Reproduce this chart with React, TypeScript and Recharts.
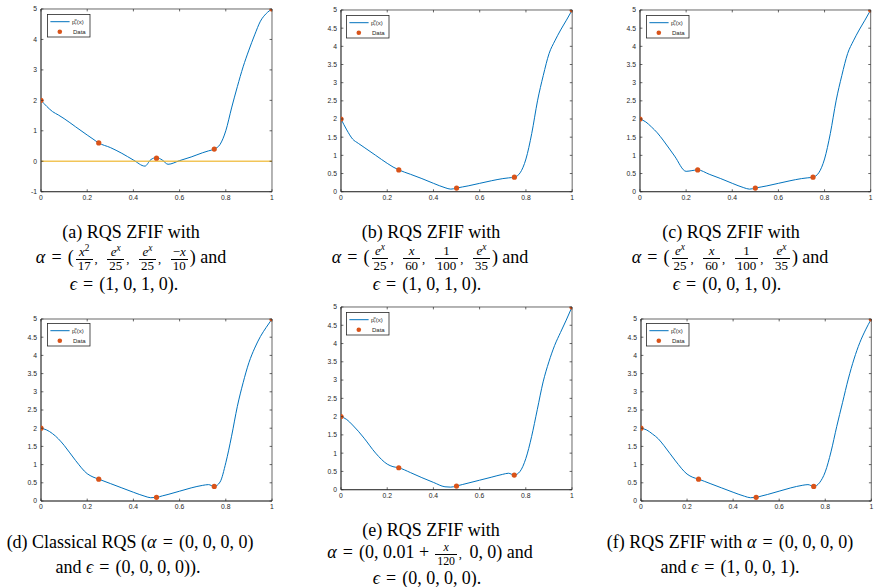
import React from 'react';
import { ComposedChart, Line, Scatter, XAxis, YAxis, Legend, ReferenceArea } from 'recharts';

// ---------- data ----------
const curveX = [0, 0.025, 0.05, 0.075, 0.1, 0.15, 0.2, 0.225, 0.25, 0.3, 0.35, 0.4, 0.45, 0.475, 0.5, 0.525, 0.55, 0.6, 0.65, 0.7, 0.725, 0.75, 0.775, 0.8, 0.825, 0.85, 0.875, 0.9, 0.925, 0.95, 0.975, 1];
const curveA = [2, 1.8, 1.63, 1.52, 1.4, 1.13, 0.86, 0.73, 0.6, 0.45, 0.26, 0.04, -0.16, 0.05, 0.12, 0.04, -0.1, 0.02, 0.14, 0.28, 0.34, 0.4, 0.55, 1.0, 1.75, 2.45, 3.1, 3.65, 4.15, 4.6, 4.85, 5];
const curveB = [2, 1.7, 1.45, 1.33, 1.22, 1.0, 0.78, 0.68, 0.6, 0.48, 0.36, 0.23, 0.11, 0.07, 0.1, 0.13, 0.16, 0.23, 0.3, 0.36, 0.38, 0.4, 0.52, 0.9, 1.6, 2.5, 3.2, 3.8, 4.15, 4.45, 4.72, 5];
const curveC = [2, 1.92, 1.78, 1.62, 1.42, 0.98, 0.56, 0.58, 0.6, 0.48, 0.36, 0.23, 0.11, 0.07, 0.1, 0.13, 0.16, 0.23, 0.3, 0.36, 0.38, 0.4, 0.52, 0.9, 1.6, 2.5, 3.2, 3.8, 4.15, 4.45, 4.72, 5];
const curveD = [2, 1.95, 1.85, 1.71, 1.53, 1.11, 0.75, 0.66, 0.6, 0.48, 0.36, 0.24, 0.13, 0.09, 0.1, 0.14, 0.18, 0.27, 0.36, 0.43, 0.45, 0.4, 0.52, 1.05, 1.78, 2.6, 3.25, 3.8, 4.2, 4.52, 4.77, 5];
const curveE = [2, 1.92, 1.77, 1.6, 1.41, 1.0, 0.7, 0.63, 0.6, 0.47, 0.33, 0.2, 0.08, 0.07, 0.1, 0.14, 0.18, 0.26, 0.34, 0.42, 0.45, 0.4, 0.5, 0.85, 1.45, 2.2, 2.95, 3.5, 3.95, 4.3, 4.64, 5];
const curveF = [2, 1.95, 1.84, 1.71, 1.52, 1.1, 0.74, 0.65, 0.6, 0.48, 0.36, 0.24, 0.13, 0.09, 0.1, 0.14, 0.18, 0.27, 0.36, 0.43, 0.45, 0.4, 0.5, 0.8, 1.35, 2.05, 2.7, 3.35, 3.9, 4.35, 4.7, 5];

const dataX = [0, 0.25, 0.5, 0.75, 1];
const dataY = [2, 0.6, 0.1, 0.4, 5];

const zeroX = [0, 1];
const zeroY = [0, 0];

const xTicks = [0, 0.2, 0.4, 0.6, 0.8, 1];
const yTicksWide = [-1, 0, 1, 2, 3, 4, 5];
const yTicksHalf = [0, 0.5, 1, 1.5, 2, 2.5, 3, 3.5, 4, 4.5, 5];

const LINE_NAME = 'p_r^α(x)';
const POINT_NAME = 'Data';

// ---------- style ----------
const BLUE = '#0072BD';
const ORANGE = '#D95319';
const YELLOW = '#EDB120';
const AX = '#262626';
const SANS = '"Liberation Sans", Arial, Helvetica, sans-serif';
const SERIF = '"Liberation Serif", "Times New Roman", serif';
const TL = 2.4; // inward tick length
const ML = 35; // plot left inside chart
const MT = 5; // plot top inside chart

const LegendName = ({ value }: { value: string }) => {
  if (value === LINE_NAME) {
    return (
      <>
        p
        <tspan fontSize={3.8} dy={1.4}>r</tspan>
        <tspan fontSize={3.8} dx={-2} dy={-4.2}>α</tspan>
        <tspan fontSize={6} dy={2.8}>(x)</tspan>
      </>
    );
  }
  return <>{value}</>;
};

const renderLegend = (props: any) => {
  const items = (props.payload || [])
    .filter((p: any) => p.type !== 'none')
    .slice()
    .sort((a: any, b: any) => (a.type === 'line' ? 0 : 1) - (b.type === 'line' ? 0 : 1));
  return (
    <svg width={44} height={24} style={{ display: 'block', overflow: 'visible' }}>
      <rect x={0.4} y={0.4} width={42.6} height={22.6} fill="#fff" stroke={AX} strokeWidth={0.8} />
      {items.map((p: any, i: number) => {
        const cy = 7.7 + i * 10;
        return (
          <g key={i}>
            {p.type === 'line' ? (
              <line x1={3.4} x2={22.6} y1={cy} y2={cy} stroke={p.color} strokeWidth={1} />
            ) : (
              <circle cx={12.8} cy={cy} r={2.3} fill={p.color} />
            )}
            <text x={i === 0 ? 25 : 26} y={cy + 2.1} fontSize={6} fontFamily={SANS} fill={AX}>
              <LegendName value={p.value} />
            </text>
          </g>
        );
      })}
    </svg>
  );
};

type PanelProps = {
  left: number; top: number; w: number; h: number;
  curve: number[]; yMin: number; yTicks: number[]; zero?: boolean;
};

function Panel({ left, top, w, h, curve, yMin, yTicks, zero }: PanelProps) {
  const lineData = curveX.map((x, i) => ({ x, y: curve[i] }));
  const pointData = dataX.map((x, i) => ({ x, y: dataY[i] }));
  const zeroData = zeroX.map((x, i) => ({ x, y: zeroY[i] }));
  const yDomain: [number, number] = [yMin, 5];
  const line = { stroke: AX, strokeWidth: 0.7 };
  const top0 = MT;
  const bottom0 = MT + h;
  const left0 = ML;
  const right0 = ML + w;

  const xTick = (p: any) => (
    <g>
      <line x1={p.x} x2={p.x} y1={bottom0} y2={bottom0 - TL} {...line} />
      <line x1={p.x} x2={p.x} y1={top0} y2={top0 + TL} {...line} />
      <text x={p.x} y={p.y} dy="0.71em" textAnchor="middle" fontSize={6.8} fill={AX} fontFamily={SANS}>
        {p.payload.value}
      </text>
    </g>
  );
  const yTick = (p: any) => (
    <g>
      <line x1={left0} x2={left0 + TL} y1={p.y} y2={p.y} {...line} />
      <line x1={right0} x2={right0 - TL} y1={p.y} y2={p.y} {...line} />
      <text x={p.x} y={p.y} dy="0.355em" textAnchor="end" fontSize={6.8} fill={AX} fontFamily={SANS}>
        {p.payload.value}
      </text>
    </g>
  );

  return (
    <div style={{ position: 'absolute', left: left - ML, top: top - MT }}>
      <ComposedChart width={w + 40} height={h + 30} margin={{ top: MT, right: 5, bottom: 5, left: 5 }}>
        <XAxis xAxisId="b" dataKey="x" type="number" domain={[0, 1]} allowDataOverflow ticks={xTicks} interval={0}
          height={20} tickLine={false} tickSize={0} tickMargin={3} axisLine={line} tick={xTick} />
        <YAxis yAxisId="l" dataKey="y" type="number" domain={yDomain} allowDataOverflow ticks={yTicks} interval={0}
          width={30} tickLine={false} tickSize={0} tickMargin={4} axisLine={line} tick={yTick} />
        <ReferenceArea xAxisId="b" yAxisId="l" x1={0} x2={1} y1={yMin} y2={5} fill="none" fillOpacity={0}
          stroke={AX} strokeWidth={0.7} ifOverflow="visible" />
        <Legend layout="vertical" align="center" verticalAlign="middle" content={renderLegend}
          wrapperStyle={{ left: ML + 5.8, top: MT + 4.6, width: 44, height: 24 }} />
        <Line xAxisId="b" yAxisId="l" data={lineData} dataKey="y" type="monotone" stroke={BLUE} strokeWidth={1}
          dot={false} activeDot={false} isAnimationActive={false} name={LINE_NAME} legendType="line" />
        {zero && (
          <Line xAxisId="b" yAxisId="l" data={zeroData} dataKey="y" type="linear" stroke={YELLOW} strokeWidth={1.6}
            strokeOpacity={0.75} dot={false} activeDot={false} isAnimationActive={false} legendType="none" name="zero" />
        )}
        <Scatter xAxisId="b" yAxisId="l" data={pointData} dataKey="y" fill={ORANGE} name={POINT_NAME} legendType="circle"
          isAnimationActive={false}
          shape={(p: any) => <circle cx={p.cx} cy={p.cy} r={2.6} fill={ORANGE} />} />
      </ComposedChart>
    </div>
  );
}

// ---------- caption helpers ----------
const I = ({ children }: { children: React.ReactNode }) => <span style={{ fontStyle: 'italic' }}>{children}</span>;
const Sup = ({ children }: { children: React.ReactNode }) => (
  <span style={{ fontSize: '0.72em', verticalAlign: '0.5em', lineHeight: 0 }}>{children}</span>
);
const Frac = ({ n, d, s = 0.72 }: { n: React.ReactNode; d: React.ReactNode; s?: number }) => (
  <span style={{ display: 'inline-flex', flexDirection: 'column', alignItems: 'center', fontSize: `${s}em`,
    lineHeight: 1.0, verticalAlign: '0.55em', margin: '0 0.16em' }}>
    <span style={{ padding: '0 0.15em' }}>{n}</span>
    <span style={{ borderTop: '0.8px solid #000', alignSelf: 'stretch', textAlign: 'center', padding: '0.05em 0.15em 0' }}>{d}</span>
  </span>
);
// small comma between fractions
const C = () => <span style={{ fontSize: '0.7em', marginRight: '0.6em' }}>,</span>;
// comma in math lists
const K = () => <span style={{ marginRight: '0.24em' }}>,</span>;
const Eq = () => <span style={{ margin: '0 0.34em' }}>=</span>;
const Tup = ({ v }: { v: string[] }) => (
  <>({v.map((s, i) => <React.Fragment key={i}>{s}{i < v.length - 1 ? <K /> : null}</React.Fragment>)})</>
);

const CapLine = ({ cx, cy, children }: { cx: number; cy: number; children: React.ReactNode }) => (
  <div style={{ position: 'absolute', left: cx - 160, width: 320, top: cy - 12, height: 24, lineHeight: '24px',
    textAlign: 'center', whiteSpace: 'nowrap', fontFamily: SERIF, fontSize: 18, color: '#000' }}>
    {children}
  </div>
);

const ex = <><I>e</I><Sup><I>x</I></Sup></>;

export default function App() {
  return (
    <div style={{ position: 'absolute', left: 0, top: 0, width: 874, height: 587, background: '#fff', overflow: 'hidden' }}>
      <Panel left={41} top={9.3} w={231} h={182.7} curve={curveA} yMin={-1} yTicks={yTicksWide} zero />
      <Panel left={340.5} top={10.3} w={231.2} h={181.7} curve={curveB} yMin={0} yTicks={yTicksHalf} />
      <Panel left={640.3} top={10.3} w={230.7} h={181.7} curve={curveC} yMin={0} yTicks={yTicksHalf} />
      <Panel left={41} top={318.7} w={231} h={182} curve={curveD} yMin={0} yTicks={yTicksHalf} />
      <Panel left={340.7} top={307.3} w={231} h={182.7} curve={curveE} yMin={0} yTicks={yTicksHalf} />
      <Panel left={640.7} top={318.7} w={230.3} h={182} curve={curveF} yMin={0} yTicks={yTicksHalf} />

      {/* (a) */}
      <CapLine cx={131} cy={232}>(a) RQS ZFIF with</CapLine>
      <CapLine cx={131} cy={257}>
        <I>α</I><Eq />(<Frac n={<><I>x</I><Sup>2</Sup></>} d="17" /><C /><Frac n={ex} d="25" /><C /><Frac n={ex} d="25" /><C /><Frac n={<>−<I>x</I></>} d="10" />) and
      </CapLine>
      <CapLine cx={124} cy={283.5}><I>ϵ</I><Eq /><Tup v={['1', '0', '1', '0']} />.</CapLine>

      {/* (b) */}
      <CapLine cx={431} cy={232}>(b) RQS ZFIF with</CapLine>
      <CapLine cx={430} cy={256.5}>
        <I>α</I><Eq />(<Frac n={ex} d="25" /><C /><Frac n={<I>x</I>} d="60" /><C /><Frac n="1" d="100" /><C /><Frac n={ex} d="35" />) and
      </CapLine>
      <CapLine cx={427} cy={283.5}><I>ϵ</I><Eq /><Tup v={['1', '0', '1', '0']} />.</CapLine>

      {/* (c) */}
      <CapLine cx={731} cy={232}>(c) RQS ZFIF with</CapLine>
      <CapLine cx={730} cy={256.5}>
        <I>α</I><Eq />(<Frac n={ex} d="25" /><C /><Frac n={<I>x</I>} d="60" /><C /><Frac n="1" d="100" /><C /><Frac n={ex} d="35" />) and
      </CapLine>
      <CapLine cx={727} cy={283.5}><I>ϵ</I><Eq /><Tup v={['0', '0', '1', '0']} />.</CapLine>

      {/* (d) */}
      <CapLine cx={130} cy={541.7}>(d) Classical RQS (<I>α</I><Eq /><Tup v={['0', '0', '0', '0']} /></CapLine>
      <CapLine cx={128} cy={566.7}>and <I>ϵ</I><Eq /><Tup v={['0', '0', '0', '0']} />).</CapLine>

      {/* (e) */}
      <CapLine cx={431} cy={530}>(e) RQS ZFIF with</CapLine>
      <CapLine cx={430} cy={552}>
        <I>α</I><Eq />(0<K />0.01<span style={{ margin: '0 0.25em' }}>+</span><Frac n={<I>x</I>} d="120" s={0.66} /><C />0<K />0) and
      </CapLine>
      <CapLine cx={427} cy={578}><I>ϵ</I><Eq /><Tup v={['0', '0', '0', '0']} />.</CapLine>

      {/* (f) */}
      <CapLine cx={730} cy={541.7}>(f) RQS ZFIF with <I>α</I><Eq /><Tup v={['0', '0', '0', '0']} /></CapLine>
      <CapLine cx={730} cy={566.7}>and <I>ϵ</I><Eq /><Tup v={['1', '0', '0', '1']} />.</CapLine>
    </div>
  );
}
